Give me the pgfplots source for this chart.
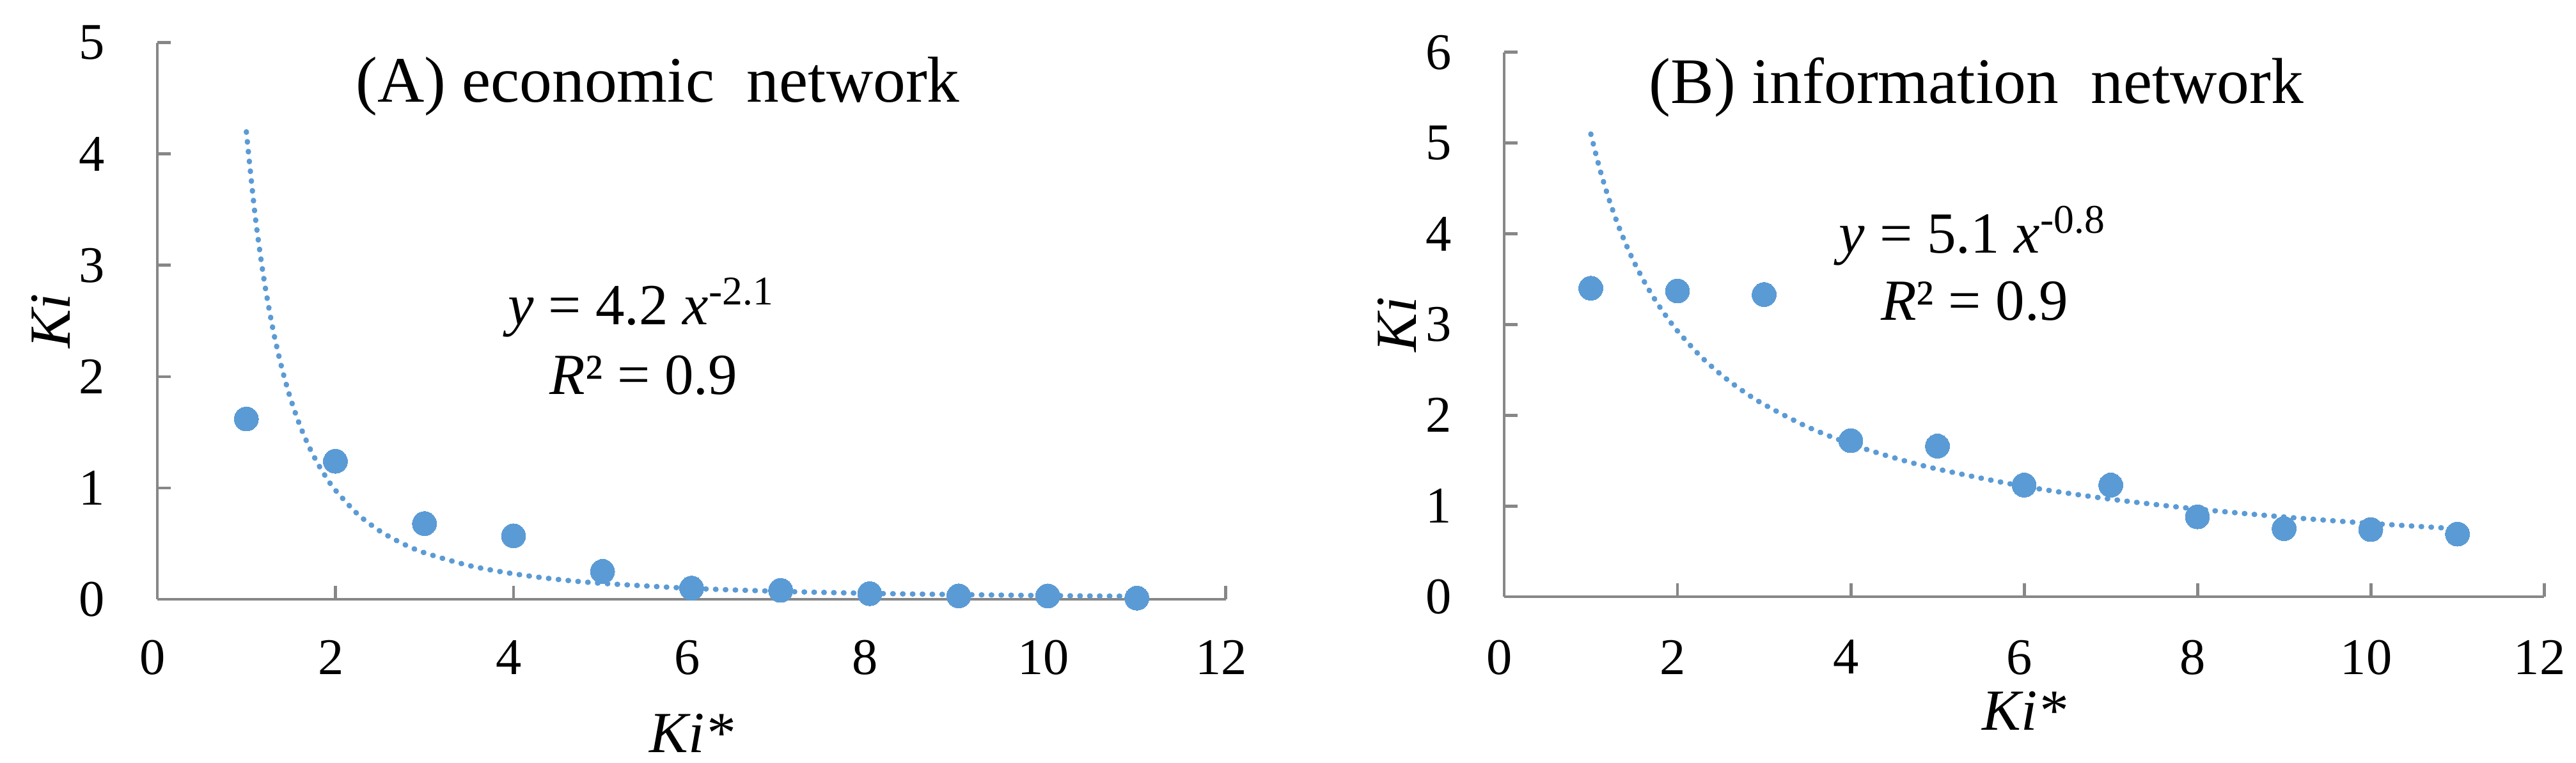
\documentclass[border=0pt]{standalone}
\usepackage{fontspec}
\setmainfont{Liberation Serif}
\usepackage{pgfplots}
\pgfplotsset{compat=1.18}

\definecolor{ptblue}{HTML}{5B9BD5}
\definecolor{axgray}{HTML}{878787}
\newcommand\lblfont{\fontsize{13}{15}\selectfont\itshape}

\pgfplotsset{
  kiaxis/.style={
    scale only axis,
    axis x line=bottom, axis y line=left,
    axis line style={draw=axgray, line width=0.7pt, -},
    tick style={draw=axgray, line width=0.7pt},
    tick align=inside, major tick length=3pt,
    xmin=0, xmax=12, xtick={0,2,...,12},
    ymin=0, enlargelimits=false,
    clip=false,
    /pgf/number format/assume math mode=true,
    tick label style={font=\fontsize{11.5}{13}\selectfont, inner sep=0pt},
    yticklabel style={anchor=east, xshift=-11.6pt},
    xlabel={Ki*}, ylabel={Ki},
  },
  dots/.style={only marks, mark=*, mark size=2.7pt,
    mark options={draw=ptblue, fill=ptblue, line width=0pt}},
  trend/.style={ptblue, line width=1.2pt, line cap=round,
    dash pattern=on 0.1pt off 2.1pt, smooth},
}

\begin{document}
\begin{tikzpicture}
\useasboundingbox (0,0) rectangle (575.43pt,170.29pt);

% (A) economic network
\begin{axis}[kiaxis,
  at={(35.14pt,36.43pt)}, anchor=south west,
  width=238.7pt, height=124.3pt,
  ymax=5, ytick={0,1,...,5},
  xticklabel style={anchor=north, yshift=-9pt, xshift=-1pt},
  every axis x label/.style={font=\lblfont, at={(axis description cs:0.5,-0.275)}, anchor=base},
  every axis y label/.style={font=\lblfont, at={(axis description cs:-0.0814,0.5)}, rotate=90, anchor=base},
]
\addplot[dots] coordinates {
  (1,1.62) (2,1.24) (3,0.68) (4,0.57) (5,0.25) (6,0.10)
  (7,0.08) (8,0.05) (9,0.03) (10,0.03) (11,0.01)};
\addplot[trend] coordinates {
  (1,4.200) (1.1,3.438) (1.2,2.864) (1.3,2.421) (1.4,2.072) (1.5,1.793)
  (1.6,1.565) (1.7,1.378) (1.8,1.222) (1.9,1.091) (2,0.980) (2.25,0.765)
  (2.5,0.613) (2.75,0.502) (3,0.418) (3.5,0.303) (4,0.229) (4.5,0.178)
  (5,0.143) (6,0.098) (7,0.071) (8,0.053) (9,0.042) (10,0.033) (11,0.027)};
\node[anchor=base, font=\fontsize{14.5}{16}\selectfont] at (axis cs:5.62,4.466)
  {(A) economic\ \ network};
\node[anchor=base, font=\fontsize{13}{15}\selectfont] at (axis cs:5.44,2.47)
  {\textit{y} = 4.2 \textit{x}\textsuperscript{-2.1}};
\node[anchor=base, font=\fontsize{13}{15}\selectfont] at (axis cs:5.46,1.84)
  {\textit{R}² = 0.9};
\end{axis}

% (B) information network
\begin{axis}[kiaxis,
  at={(336pt,37pt)}, anchor=south west,
  width=232.3pt, height=121.6pt,
  ymax=6, ytick={0,1,...,6},
  xticklabel style={anchor=north, yshift=-9.5pt, xshift=-1pt},
  every axis x label/.style={font=\lblfont, at={(axis description cs:0.5,-0.245)}, anchor=base},
  every axis y label/.style={font=\lblfont, at={(axis description cs:-0.0843,0.5)}, rotate=90, anchor=base},
]
\addplot[dots] coordinates {
  (1,3.40) (2,3.37) (3,3.33) (4,1.72) (5,1.66) (6,1.23)
  (7,1.23) (8,0.88) (9,0.75) (10,0.74) (11,0.69)};
\addplot[trend] coordinates {
  (1,5.100) (1.1,4.726) (1.2,4.408) (1.3,4.134) (1.4,3.896) (1.5,3.687)
  (1.6,3.502) (1.7,3.336) (1.8,3.187) (1.9,3.052) (2,2.929) (2.25,2.666)
  (2.5,2.450) (2.75,2.270) (3,2.118) (3.5,1.872) (4,1.682) (4.5,1.531)
  (5,1.407) (6,1.216) (7,1.075) (8,0.966) (9,0.879) (10,0.808) (11,0.749)};
\node[anchor=base, font=\fontsize{14.5}{16}\selectfont] at (axis cs:5.45,5.44)
  {(B) information\ \ network};
\node[anchor=base, font=\fontsize{13}{15}\selectfont] at (axis cs:5.41,3.79)
  {\textit{y} = 5.1 \textit{x}\textsuperscript{-0.8}};
\node[anchor=base, font=\fontsize{13}{15}\selectfont] at (axis cs:5.43,3.05)
  {\textit{R}² = 0.9};
\end{axis}
\end{tikzpicture}
\end{document}
